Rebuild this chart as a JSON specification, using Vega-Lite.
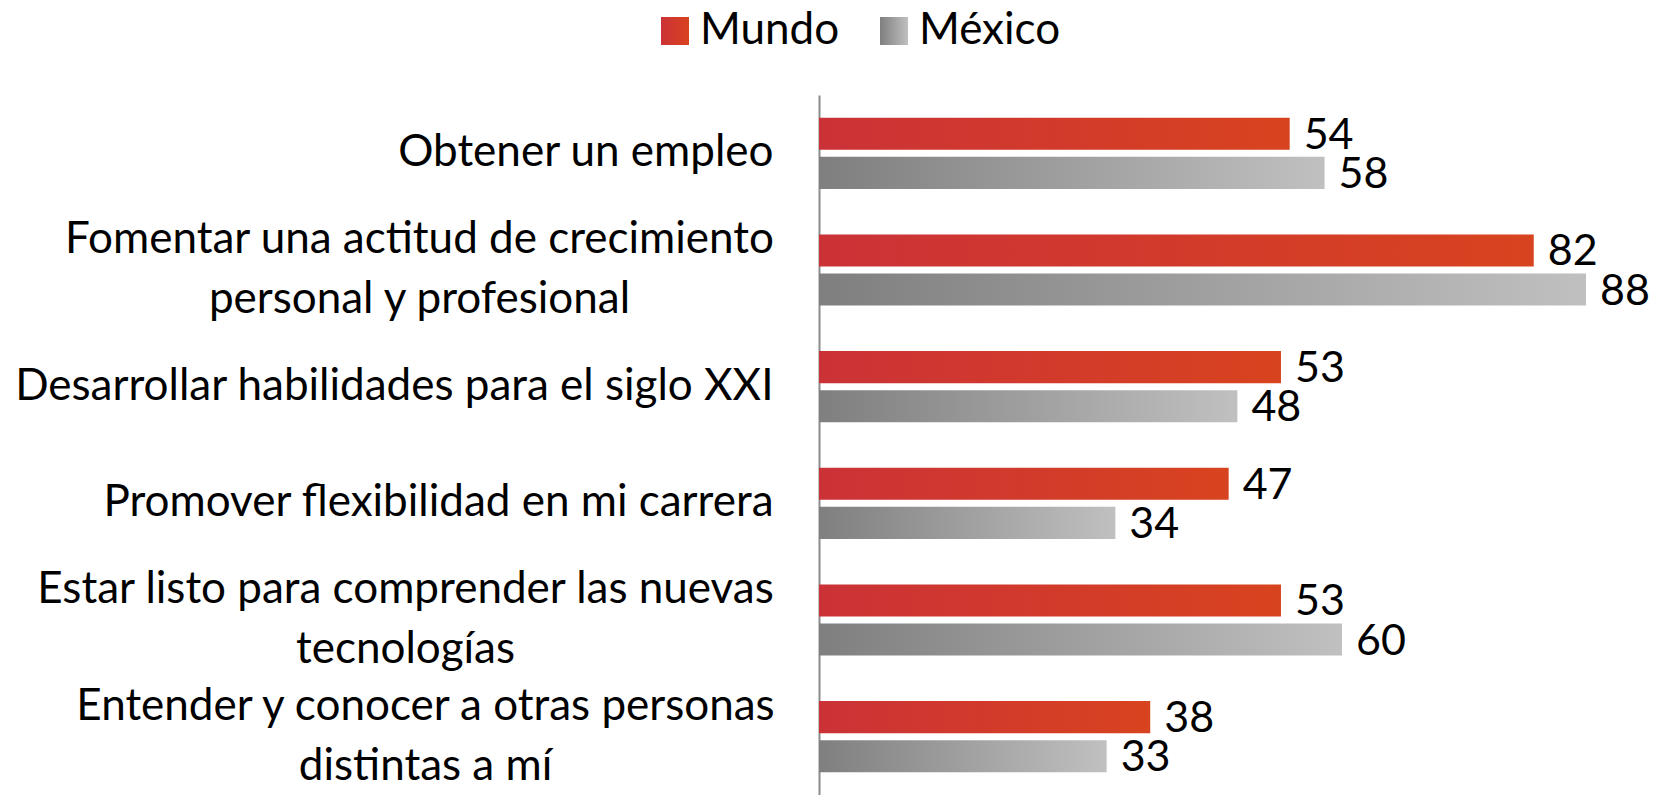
{
  "$schema": "https://vega.github.io/schema/vega-lite/v6.json",
  "width": 842,
  "height": 700,
  "autosize": {"type": "none"},
  "padding": {"left": 819, "top": 95, "right": 0, "bottom": 0},
  "background": "white",
  "config": {"view": {"stroke": null}},
  "data": {
    "values": [
      {"cat": "Obtener un empleo", "serie": "Mundo", "v": 54},
      {"cat": "Obtener un empleo", "serie": "México", "v": 58},
      {"cat": "Fomentar una actitud de crecimiento|personal y profesional", "serie": "Mundo", "v": 82},
      {"cat": "Fomentar una actitud de crecimiento|personal y profesional", "serie": "México", "v": 88},
      {"cat": "Desarrollar habilidades para el siglo XXI", "serie": "Mundo", "v": 53},
      {"cat": "Desarrollar habilidades para el siglo XXI", "serie": "México", "v": 48},
      {"cat": "Promover flexibilidad en mi carrera", "serie": "Mundo", "v": 47},
      {"cat": "Promover flexibilidad en mi carrera", "serie": "México", "v": 34},
      {"cat": "Estar listo para comprender las nuevas|tecnologías", "serie": "Mundo", "v": 53},
      {"cat": "Estar listo para comprender las nuevas|tecnologías", "serie": "México", "v": 60},
      {"cat": "Entender y conocer a otras personas|distintas a mí", "serie": "Mundo", "v": 38},
      {"cat": "Entender y conocer a otras personas|distintas a mí", "serie": "México", "v": 33}
    ]
  },
  "encoding": {
    "y": {
      "field": "cat",
      "type": "nominal",
      "sort": null,
      "title": null,
      "scale": {"paddingInner": 0.39, "paddingOuter": 0.195},
      "axis": {
        "labelExpr": "split(datum.label, '|')",
        "labelFont": "Lato",
        "labelFontSize": 44,
        "labelColor": "#000000",
        "labelLineHeight": 60,
        "labelLimit": 900,
        "labelOffset": {"condition": {"test": "indexof(datum.value, '|') >= 0", "value": -30}, "value": 0},
        "labelAlign": {"condition": {"test": "indexof(datum.value, '|') >= 0", "value": "center"}, "value": "right"},
        "labelPadding": {
          "condition": [
            {"test": "indexof(datum.value, 'Fomentar') >= 0", "value": 400},
            {"test": "indexof(datum.value, 'Estar') >= 0", "value": 414},
            {"test": "indexof(datum.value, 'Entender') >= 0", "value": 394}
          ],
          "value": 46
        },
        "ticks": false,
        "domainColor": "#8c8c8c",
        "domainWidth": 2,
        "grid": false
      }
    },
    "yOffset": {
      "field": "serie",
      "type": "nominal",
      "sort": ["Mundo", "México"],
      "scale": {"paddingInner": 0.18, "paddingOuter": 0}
    },
    "x": {
      "field": "v",
      "type": "quantitative",
      "scale": {"domain": [0, 96.6]},
      "axis": null
    }
  },
  "layer": [
    {
      "mark": {"type": "bar"},
      "encoding": {
        "color": {
          "field": "serie",
          "type": "nominal",
          "sort": ["Mundo", "México"],
          "scale": {
            "domain": ["Mundo", "México"],
            "range": [
              {"expr": "{gradient: 'linear', x1: 0, y1: 0, x2: 1, y2: 0, stops: [{offset: 0, color: '#cb3237'}, {offset: 1, color: '#d8431f'}]}"},
              {"expr": "{gradient: 'linear', x1: 0, y1: 0, x2: 1, y2: 0, stops: [{offset: 0, color: '#7f7f7f'}, {offset: 1, color: '#c0c0c0'}]}"}
            ]
          },
          "legend": {
            "title": null,
            "orient": "none",
            "direction": "horizontal",
            "legendX": -166,
            "legendY": -86,
            "symbolType": "square",
            "symbolSize": 784,
            "symbolStrokeWidth": 0,
            "labelFont": "Lato",
            "labelFontSize": 44,
            "labelColor": "#000000",
            "labelOffset": 3,
            "columnPadding": 32,
            "labelLimit": 400
          }
        }
      }
    },
    {
      "mark": {"type": "text", "align": "left", "baseline": "middle", "dx": 14, "dy": 2, "font": "Lato", "fontSize": 43, "color": "#000000"},
      "encoding": {"text": {"field": "v", "type": "quantitative"}}
    }
  ]
}
